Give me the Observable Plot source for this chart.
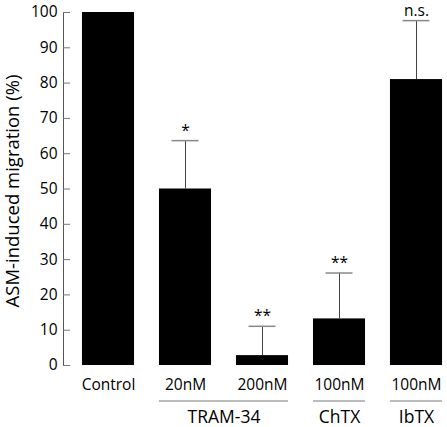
<!DOCTYPE html>
<html>
<head>
<meta charset="utf-8">
<script src="https://cdn.jsdelivr.net/npm/d3@7"></script>
<script src="https://cdn.jsdelivr.net/npm/@observablehq/plot@0.6"></script>
<style>
  html, body { margin: 0; padding: 0; background: #fff; }
  svg { display: block; }
</style>
</head>
<body>
<div id="chart"></div>
<script>
// ---- data ----
const conditions = ["Control", "20nM", "200nM", "100nM", "100nM"];
const values = [100, 50, 2.8, 13.2, 81];
const errors = [0, 13.7, 8.3, 13, 16.7];
const marks = ["", "*", "**", "**", "n.s."];
const groupNames = ["TRAM-34", "ChTX", "IbTX"];
const groupFrom = [1, 3, 4];
const groupTo = [2, 3, 4];
const yTicks = [0, 10, 20, 30, 40, 50, 60, 70, 80, 90, 100];
const yLabel = "ASM-induced migration (%)";

const bars = conditions.map((c, i) => ({i, label: c, value: values[i], err: errors[i], sig: marks[i]}));
const groups = groupNames.map((g, k) => ({name: g, from: groupFrom[k], to: groupTo[k]}));

const HALF = 0.338;   // half bar width in band units
const CAP = 0.175;    // half cap width
const font = "'Open Sans', 'DejaVu Sans', sans-serif";

const chart = Plot.plot({
  width: 447,
  height: 427,
  marginTop: 12,
  marginBottom: 62,
  marginLeft: 63,
  marginRight: 0,
  style: {fontFamily: font, fontSize: "15.5px", color: "#000", background: "#fff"},
  x: {type: "linear", domain: [0, 4], range: [108, 416], axis: null},
  y: {domain: [0, 100], axis: null},
  marks: [
    // y axis line
    Plot.frame({anchor: "left", stroke: "#555"}),
    // inward ticks
    Plot.axisY({ticks: yTicks, text: null, tickSize: 7, dx: 7, stroke: "#777", label: null}),
    // tick labels
    Plot.axisY({ticks: yTicks, tickSize: 0, tickPadding: 6, fontSize: 15.5, fill: "#000", label: null}),
    // y label
    Plot.text([yLabel], {frameAnchor: "left", textAnchor: "middle", rotate: -90, dx: -50.5, dy: 2, fontSize: 18.5, fill: "#000"}),
    // bars
    Plot.rectY(bars, {x1: d => d.i - HALF, x2: d => d.i + HALF, y1: 0, y2: "value", fill: "black"}),
    // error bars
    Plot.ruleX(bars.filter(d => d.err > 0), {x: "i", y1: "value", y2: d => d.value + d.err, stroke: "#444", strokeWidth: 1}),
    Plot.ruleY(bars.filter(d => d.err > 0), {x1: d => d.i - CAP, x2: d => d.i + CAP, y: d => d.value + d.err, stroke: "#888", strokeWidth: 1.5}),
    // significance
    Plot.text(bars.filter(d => d.sig), {x: "i", y: d => d.value + d.err, text: "sig", lineAnchor: "bottom", dy: -5, fontSize: 15.5, fill: "#000"}),
    // condition labels
    Plot.text(bars, {x: "i", frameAnchor: "bottom", text: "label", lineAnchor: "middle", dy: 20, fontSize: 15.5, fill: "#000"}),
    // group lines
    Plot.ruleY(groups, {x1: d => d.from - HALF, x2: d => d.to + HALF, y: () => 0, dy: 35.5, stroke: "#777", strokeWidth: 1}),
    // group labels
    Plot.text(groups, {x: d => (d.from + d.to) / 2, frameAnchor: "bottom", text: "name", lineAnchor: "middle", dy: 52, fontSize: 17.5, fill: "#000"})
  ]
});
document.getElementById("chart").appendChild(chart);
</script>
</body>
</html>
